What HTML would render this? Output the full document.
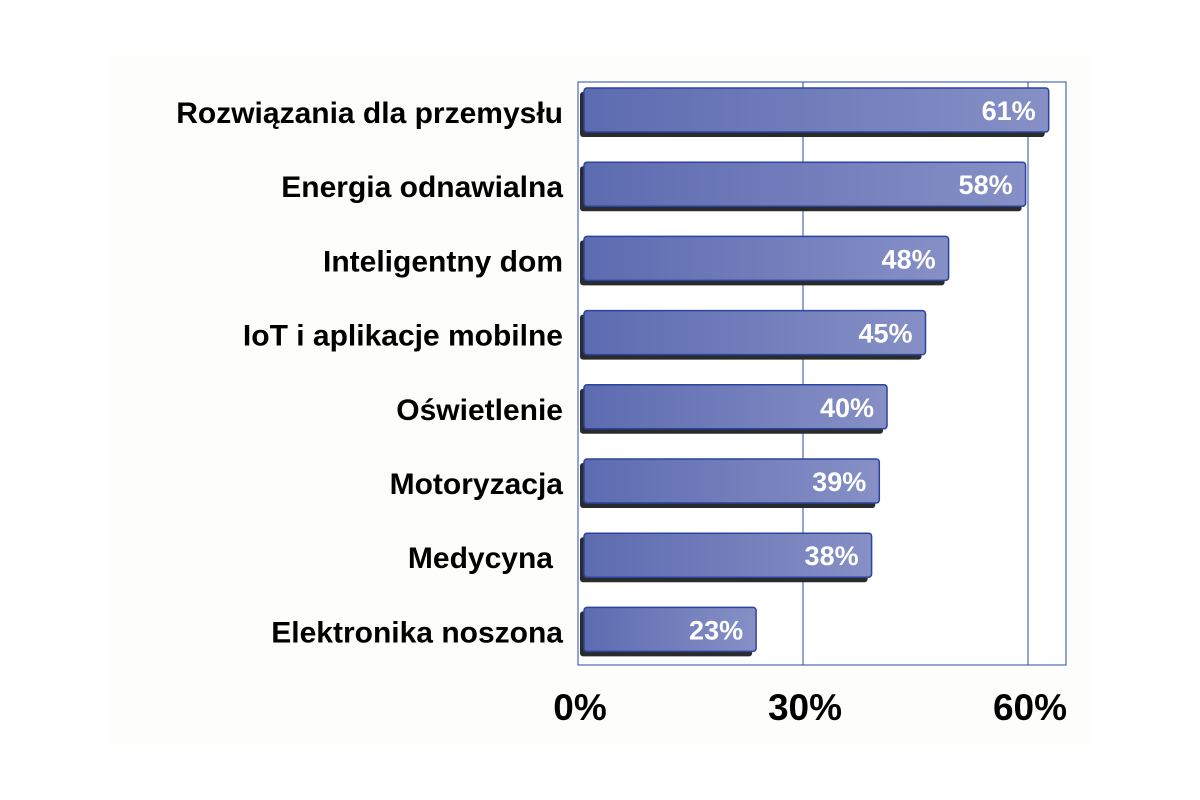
<!DOCTYPE html>
<html><head><meta charset="utf-8"><style>
body{margin:0;background:#fff;}
svg{display:block;font-family:"Liberation Sans",Arial,sans-serif;font-weight:bold;}
</style></head><body>
<svg width="1200" height="800">
<defs>
<linearGradient id="g" x1="0" x2="1" y1="0" y2="0">
<stop offset="0" stop-color="#5d6bb0"/><stop offset="1" stop-color="#8690c6"/>
</linearGradient>
</defs>
<rect x="110" y="55" width="980" height="690" fill="#fdfdfb"/>
<g id="plot"></g>
</svg>
<script>
const categories=["Rozwiązania dla przemysłu","Energia odnawialna","Inteligentny dom","IoT i aplikacje mobilne","Oświetlenie","Motoryzacja","Medycyna","Elektronika noszona"];
const values=[61,58,48,45,40,39,38,23];
const ticks=[0,30,60];
(function(){
const NS="http://www.w3.org/2000/svg";
const g=document.getElementById('plot');
const x0=578,xPer=7.5,plotTop=82,plotBottom=665,plotRight=1066;
const xg=v=>x0+v*xPer;
const xb=v=>x0+v*7.7;
const rowY=i=>88+i*74.2;
function mk(t,a){const e=document.createElementNS(NS,t);for(const k in a)e.setAttribute(k,a[k]);g.appendChild(e);return e;}
let f=mk('rect',{x:x0,y:plotTop,width:plotRight-x0,height:plotBottom-plotTop,fill:'#fff',stroke:'#2a4aa8','stroke-width':1});


ticks.forEach(t=>{
 if(t>0){let l=mk('line',{x1:xg(t),x2:xg(t),y1:plotTop,y2:plotBottom,stroke:'#2a4aa8','stroke-width':1});
 
 }
 let tx=mk('text',{x:xg(t)+2,y:720,'text-anchor':'middle','font-size':37,fill:'#000'});tx.textContent=t+'%';
 
 
});
values.forEach((v,i)=>{
 const y=rowY(i),w=xb(v)-583;
 let s=mk('rect',{x:580,y:y+4,width:w,height:45,rx:3,fill:'#2b2b2b'});
 
 
 let b=mk('rect',{x:584,y:y,width:w,height:44,rx:3,fill:'url(#g)',stroke:'#2a44a0','stroke-width':1.5});
 
 
 let vl=mk('text',{x:583+w-12,y:y+32,'text-anchor':'end','font-size':27,fill:'#fff'});vl.textContent=v+'%';
 
 
 let cl=mk('text',{x:i==6?553:563,y:y+35,'text-anchor':'end','font-size':30,fill:'#000'});cl.textContent=categories[i];
 
 
});
})();
</script>
</body></html>
